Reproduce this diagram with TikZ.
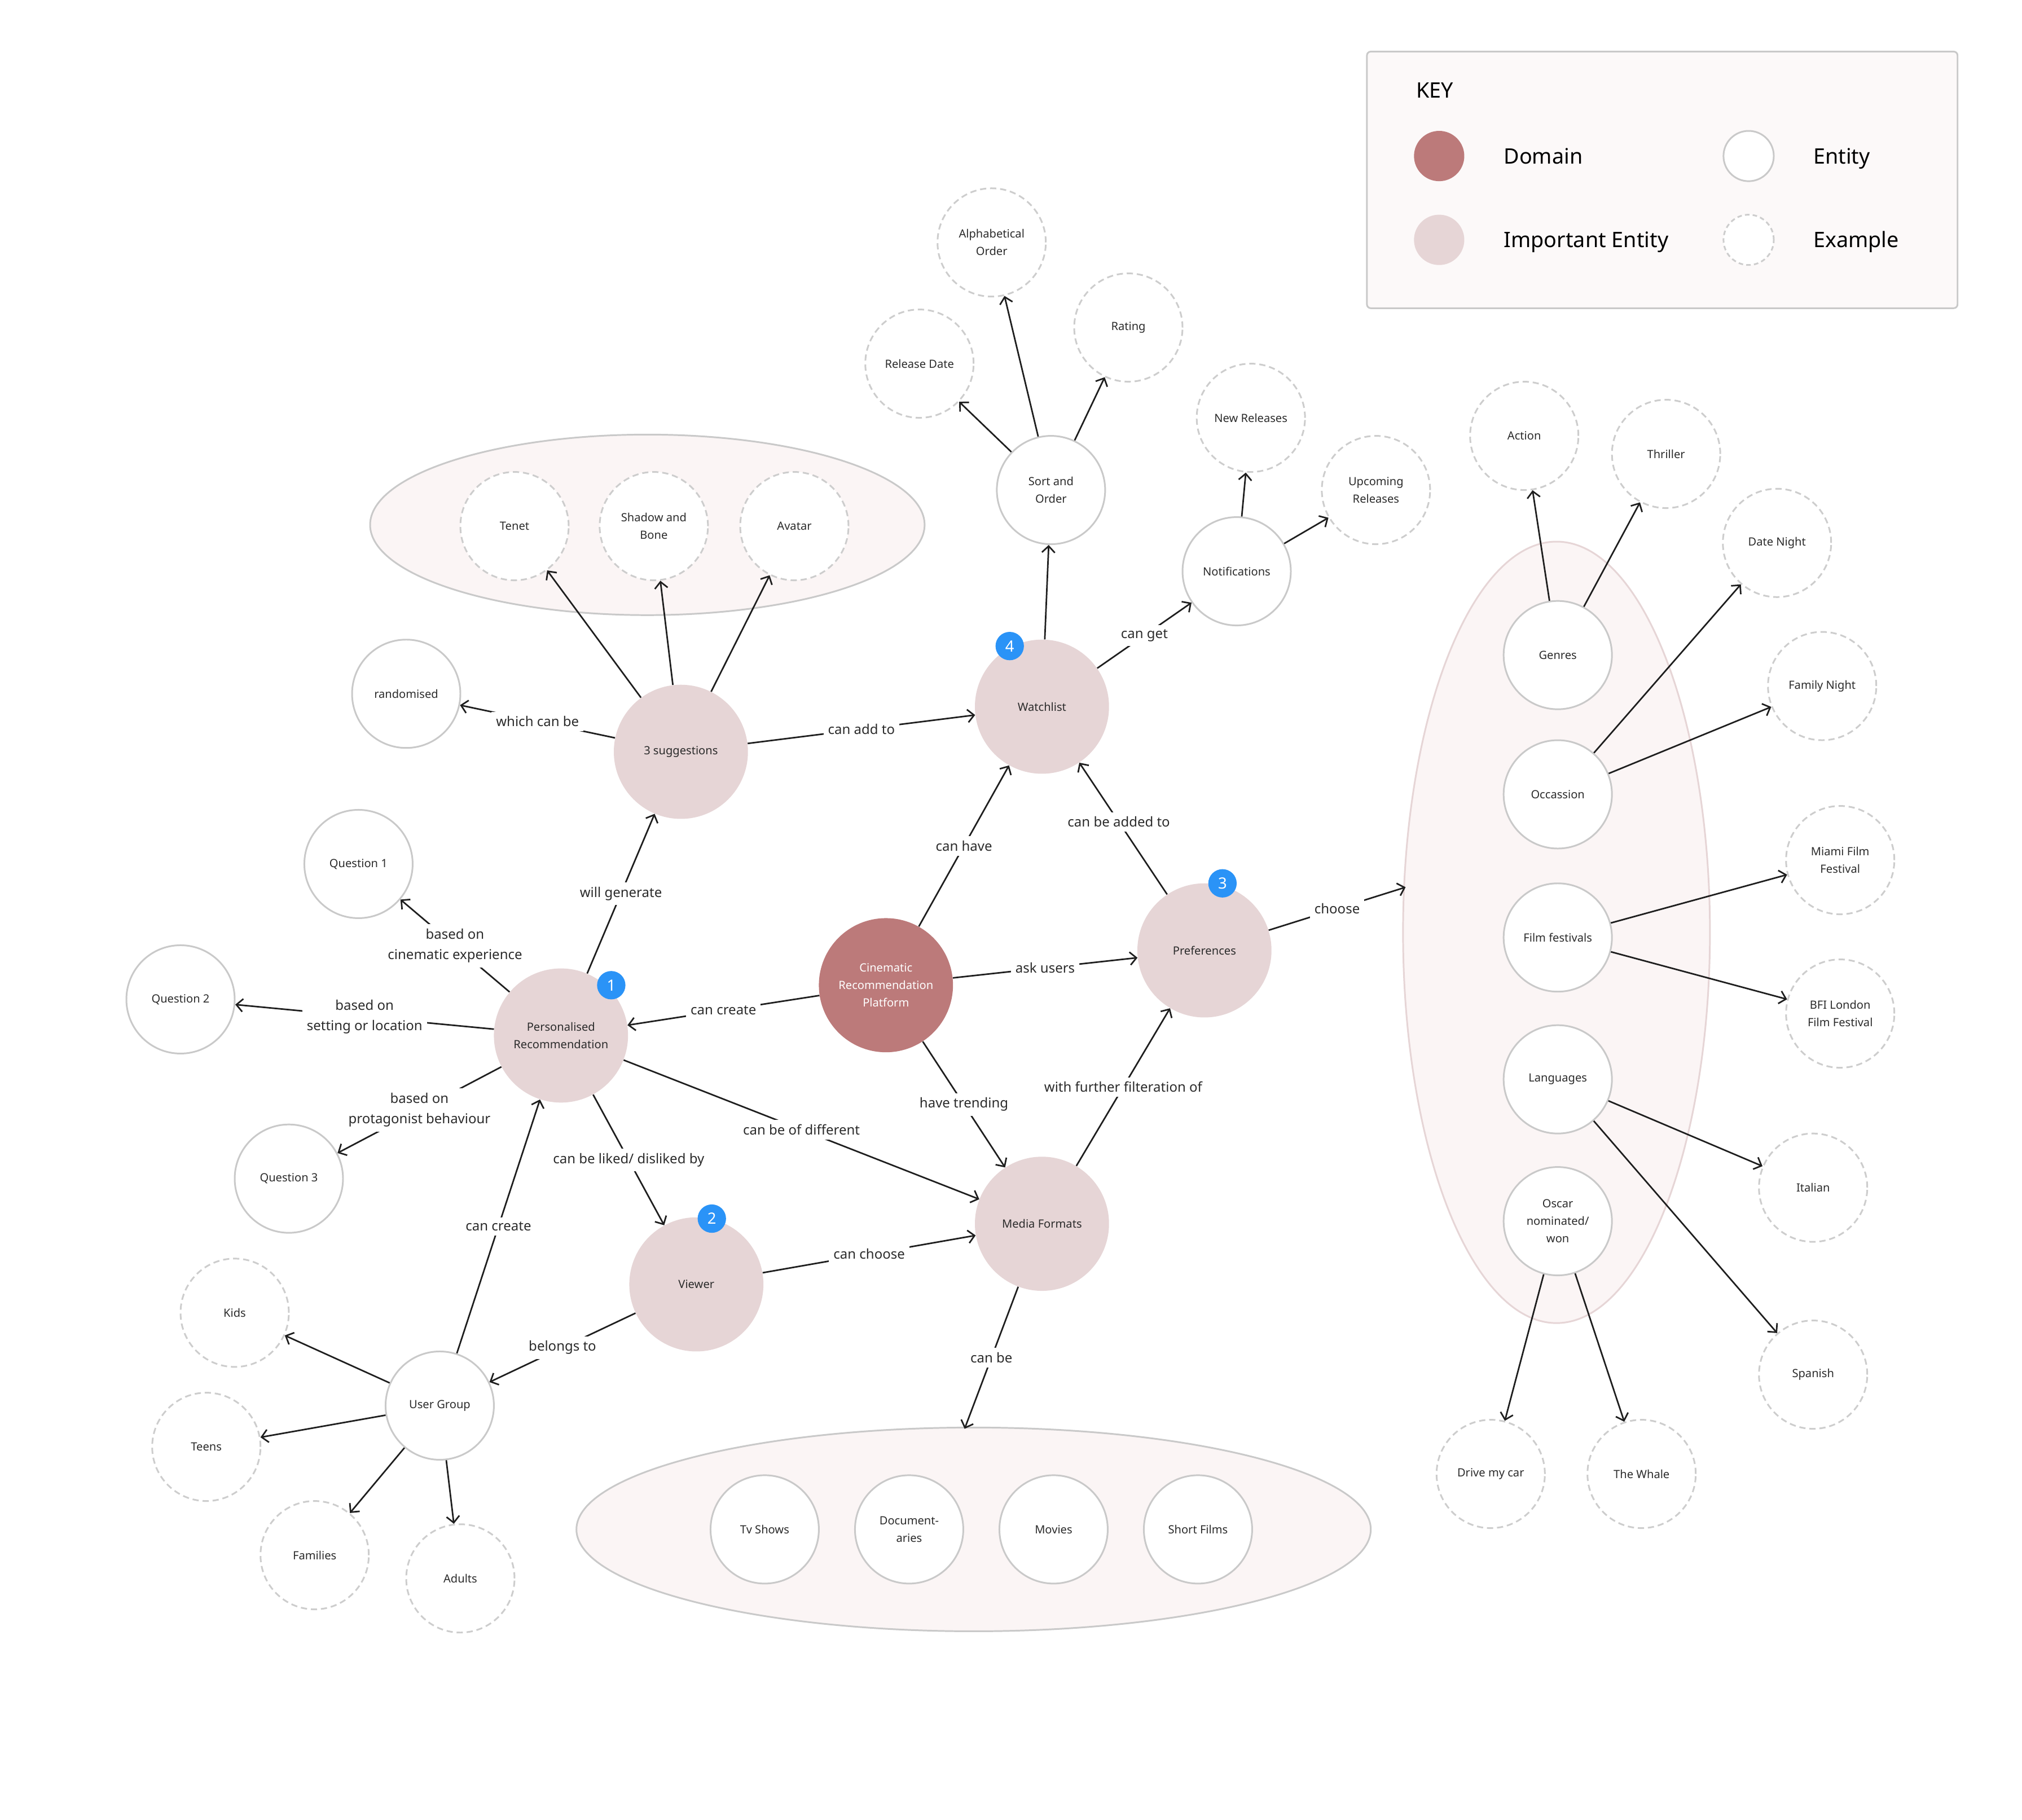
\documentclass[tikz,border=0pt]{standalone}
\usepackage{fontspec}
\setmainfont{Noto Sans}
\usetikzlibrary{arrows.meta,shapes.geometric}
\definecolor{domcol}{HTML}{BC7A7A}
\definecolor{impcol}{HTML}{E6D5D6}
\definecolor{entline}{HTML}{C9C9C9}
\definecolor{exline}{HTML}{CDCDCD}
\definecolor{grpfill}{HTML}{FBF5F5}
\definecolor{keyfill}{HTML}{FCF9F9}
\definecolor{badgecol}{HTML}{2A93F7}
\definecolor{txtcol}{HTML}{2B2B2B}
\definecolor{edgecol}{HTML}{1E1E1E}
\newcommand\nodefs{\fontsize{8.8}{13.5}\selectfont}
\newcommand\lblfs{\fontsize{10.5}{16}\selectfont}
\newcommand\keyfs{\fontsize{16.5}{20}\selectfont}
\begin{document}
\begin{tikzpicture}[x=1pt,y=-1pt,
 base/.style={circle,inner sep=0pt,align=center,font=\nodefs,text=txtcol},
 imp/.style={base,fill=impcol,minimum size=104pt},
 dom/.style={base,fill=domcol,minimum size=104pt,text=white},
 ent/.style={base,draw=entline,line width=1.3pt,fill=white,minimum size=84pt},
 ex/.style={base,draw=exline,line width=1.3pt,dash pattern=on 4.8pt off 3pt,fill=white,minimum size=84pt},
 badge/.style={circle,fill=badgecol,minimum size=22pt,inner sep=0pt,text=white,font=\fontsize{12}{12}\selectfont},
 grp/.style={ellipse,inner sep=0pt,fill=grpfill,draw=entline,line width=1.3pt},
 lbl/.style={fill=white,inner sep=3.5pt,font=\lblfs,text=txtcol,align=center,midway},
 arr/.style={draw=edgecol,line width=1.2pt,-{Straight Barb[length=5pt,width=10pt]}},
 keytxt/.style={anchor=west,font=\keyfs,text=black,inner sep=0pt,text height=11.8pt,text depth=0pt},
]
\fill[white] (0,0) rectangle (1568,1411.3);
\useasboundingbox (0,0) rectangle (1568,1411.3);

% Key
\node[draw=entline,fill=keyfill,line width=1.3pt,rounded corners=3pt,minimum width=458pt,minimum height=199pt,inner sep=0pt] (keybox) at (1289,139.5) {};
\node[keytxt] (keytitle) at (1098,70) {KEY};
\node[circle,fill=domcol,minimum size=39pt,inner sep=0pt] (kdom) at (1116,121) {};
\node[keytxt] (kdomt) at (1166,121) {Domain};
\node[circle,draw=entline,line width=1.3pt,fill=white,minimum size=39pt,inner sep=0pt] (kent) at (1356,121) {};
\node[keytxt] (kentt) at (1406,121) {Entity};
\node[circle,fill=impcol,minimum size=39pt,inner sep=0pt] (kimp) at (1116,186) {};
\node[keytxt] (kimpt) at (1166,186) {Important Entity};
\node[circle,draw=exline,line width=1.3pt,dash pattern=on 3.5pt off 2.5pt,fill=white,minimum size=39pt,inner sep=0pt] (kex) at (1356,186) {};
\node[keytxt] (kext) at (1406,186) {Example};

% Group ellipses
\node[grp,minimum width=430pt,minimum height=140pt] (topell) at (502,407) {};
\node[grp,minimum width=616pt,minimum height=158pt] (botell) at (755,1186) {};
\node[grp,draw=impcol,minimum width=238pt,minimum height=606pt] (rightell) at (1207,723) {};
\coordinate (choosept) at (1090,688);
\coordinate (canbept) at (748,1108);

% Main nodes
\node[dom] (crp) at (687,764) {Cinematic\\Recommendation\\Platform};
\node[imp] (pr) at (435,803) {Personalised\\Recommendation};
\node[imp] (sugg) at (528,583) {3 suggestions};
\node[imp] (watch) at (808,548) {Watchlist};
\node[imp] (pref) at (934,737) {Preferences};
\node[imp] (media) at (808,949) {Media Formats};
\node[imp] (viewer) at (540,996) {Viewer};

% Entities
\node[ent] (ug) at (341,1090) {User Group};
\node[ent] (q1) at (278,670) {Question 1};
\node[ent] (q2) at (140,775) {Question 2};
\node[ent] (q3) at (224,914) {Question 3};
\node[ent] (rand) at (315,538) {randomised};
\node[ent] (sort) at (815,380) {Sort and\\Order};
\node[ent] (notif) at (959,443) {Notifications};
\node[ent] (genres) at (1208,508) {Genres};
\node[ent] (occ) at (1208,616) {Occassion};
\node[ent] (fest) at (1208,727) {Film festivals};
\node[ent] (lang) at (1208,837) {Languages};
\node[ent] (oscar) at (1208,947) {Oscar\\nominated/\\won};
\node[ent] (tv) at (593,1186) {Tv Shows};
\node[ent] (docs) at (705,1186) {Document-\\aries};
\node[ent] (movies) at (817,1186) {Movies};
\node[ent] (shorts) at (929,1186) {Short Films};

% Examples
\node[ex] (tenet) at (399,408) {Tenet};
\node[ex] (shadow) at (507,408) {Shadow and\\Bone};
\node[ex] (avatar) at (616,408) {Avatar};
\node[ex] (alpha) at (769,188) {Alphabetical\\Order};
\node[ex] (rating) at (875,254) {Rating};
\node[ex] (release) at (713,282) {Release Date};
\node[ex] (newrel) at (970,324) {New Releases};
\node[ex] (upcoming) at (1067,380) {Upcoming\\Releases};
\node[ex] (action) at (1182,338) {Action};
\node[ex] (thriller) at (1292,352) {Thriller};
\node[ex] (date) at (1378,421) {Date Night};
\node[ex] (family) at (1413,532) {Family Night};
\node[ex] (miami) at (1427,667) {Miami Film\\Festival};
\node[ex] (bfi) at (1427,786) {BFI London\\Film Festival};
\node[ex] (italian) at (1406,921) {Italian};
\node[ex] (spanish) at (1406,1066) {Spanish};
\node[ex] (drive) at (1156,1143) {Drive my car};
\node[ex] (whale) at (1273,1143) {The Whale};
\node[ex] (kids) at (182,1018) {Kids};
\node[ex] (teens) at (160,1122) {Teens};
\node[ex] (families) at (244,1206) {Families};
\node[ex] (adults) at (357,1224) {Adults};

% Connectors with labels
\draw[arr] (crp) -- node[lbl] {can create} (pr);
\draw[arr] (crp) -- node[lbl] {can have} (watch);
\draw[arr] (crp) -- node[lbl] {ask users} (pref);
\draw[arr] (crp) -- node[lbl] {have trending} (media);
\draw[arr] (pr) -- node[lbl] {will generate} (sugg);
\draw[arr] (pr) -- node[lbl] {based on\\cinematic experience} (q1);
\draw[arr] (pr) -- node[lbl] {based on\\setting or location} (q2);
\draw[arr] (pr) -- node[lbl] {based on\\protagonist behaviour} (q3);
\draw[arr] (pr) -- node[lbl] {can be liked/ disliked by} (viewer);
\draw[arr] (pr) -- node[lbl] {can be of different} (media);
\draw[arr] (ug) -- node[lbl] {can create} (pr);
\draw[arr] (viewer) -- node[lbl] {belongs to} (ug);
\draw[arr] (viewer) -- node[lbl] {can choose} (media);
\draw[arr] (media) -- node[lbl] {with further filteration of} (pref);
\draw[arr] (pref) -- node[lbl,pos=0.55] {can be added to} (watch);
\draw[arr] (sugg) -- node[lbl] {can add to} (watch);
\draw[arr] (sugg) -- node[lbl] {which can be} (rand);
\draw[arr] (watch) -- node[lbl] {can get} (notif);
\draw[arr] (pref) -- node[lbl] {choose} (choosept);
\draw[arr] (media) -- node[lbl] {can be} (canbept);

% Plain connectors
\draw[arr] (sugg) -- (tenet);
\draw[arr] (sugg) -- (shadow);
\draw[arr] (sugg) -- (avatar);
\draw[arr] (watch) -- (sort);
\draw[arr] (sort) -- (release);
\draw[arr] (sort) -- (alpha);
\draw[arr] (sort) -- (rating);
\draw[arr] (notif) -- (newrel);
\draw[arr] (notif) -- (upcoming);
\draw[arr] (genres) -- (action);
\draw[arr] (genres) -- (thriller);
\draw[arr] (occ) -- (date);
\draw[arr] (occ) -- (family);
\draw[arr] (fest) -- (miami);
\draw[arr] (fest) -- (bfi);
\draw[arr] (lang) -- (italian);
\draw[arr] (lang) -- (spanish);
\draw[arr] (oscar) -- (drive);
\draw[arr] (oscar) -- (whale);
\draw[arr] (ug) -- (kids);
\draw[arr] (ug) -- (teens);
\draw[arr] (ug) -- (families);
\draw[arr] (ug) -- (adults);

% Badges
\node[badge] (b1) at (474,764) {1};
\node[badge] (b2) at (552,945) {2};
\node[badge] (b3) at (948,685) {3};
\node[badge] (b4) at (783,501) {4};
\end{tikzpicture}
\end{document}
